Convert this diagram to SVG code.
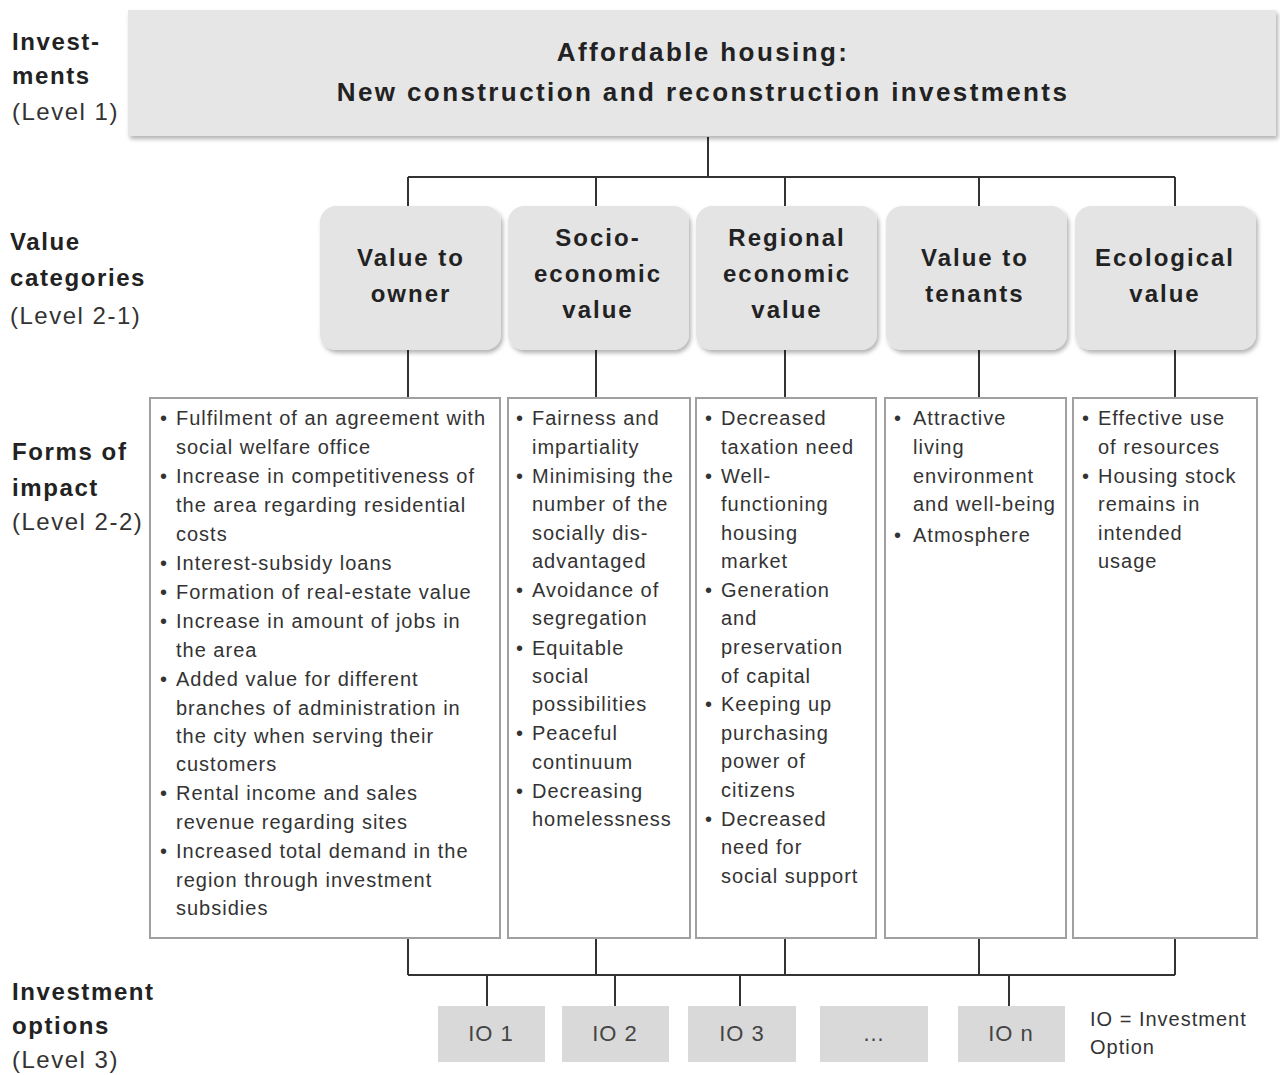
<svg xmlns="http://www.w3.org/2000/svg" width="1280" height="1075" viewBox="0 0 1280 1075">
<defs>
<filter id="sh" x="-5%" y="-5%" width="112%" height="115%">
<feDropShadow dx="2" dy="3" stdDeviation="2" flood-color="#000" flood-opacity="0.3"/>
</filter>
<style>
.lvl{font-family:"Liberation Sans",Arial,sans-serif;font-size:24px;fill:#222;}
.lb{font-weight:bold;letter-spacing:1.6px;}
.ln{letter-spacing:1.5px;fill:#333;}
.title{font-family:"Liberation Sans",Arial,sans-serif;font-size:26px;font-weight:bold;fill:#222;text-anchor:middle;letter-spacing:2.4px;}
.vc{font-family:"Liberation Sans",Arial,sans-serif;font-size:24px;font-weight:bold;fill:#222;text-anchor:middle;letter-spacing:2px;}
.vbox{fill:#e4e4e4;filter:url(#sh);}
.ibox{fill:#fff;stroke:#a0a0a0;stroke-width:2;}
.bt{font-family:"Liberation Sans",Arial,sans-serif;font-size:20px;fill:#333;letter-spacing:1px;}
.io{fill:#d9d9d9;}
.iot{font-family:"Liberation Sans",Arial,sans-serif;font-size:22px;fill:#444;text-anchor:middle;letter-spacing:1px;}
.conn{stroke:#333;stroke-width:2;fill:none;}
</style>
</defs>
<rect width="1280" height="1075" fill="#fff"/>

<g id="level-labels">
<text class="lvl lb" x="12" y="50">Invest-</text>
<text class="lvl lb" x="12" y="84">ments</text>
<text class="lvl ln" x="12" y="120">(Level 1)</text>
<text class="lvl lb" x="10" y="250">Value</text>
<text class="lvl lb" x="10" y="286">categories</text>
<text class="lvl ln" x="10" y="324">(Level 2-1)</text>
<text class="lvl lb" x="12" y="460">Forms of</text>
<text class="lvl lb" x="12" y="496">impact</text>
<text class="lvl ln" x="12" y="530">(Level 2-2)</text>
<text class="lvl lb" x="12" y="1000">Investment</text>
<text class="lvl lb" x="12" y="1034">options</text>
<text class="lvl ln" x="12" y="1068">(Level 3)</text>
</g>

<g id="connectors">
<path class="conn" d="M708 137V177M408 177H1175M408 177V207M596 177V207M785 177V207M979 177V207M1175 177V207"/>
<path class="conn" d="M408 350V398M596 350V398M785 350V398M979 350V398M1175 350V398"/>
<path class="conn" d="M408 938V975M596 938V975M785 938V975M979 938V975M1175 938V975M408 975H1175"/>
<path class="conn" d="M487 975V1006M615 975V1006M740 975V1006M1009 975V1006"/>
</g>

<g id="top">
<rect x="128" y="10" width="1148" height="126" fill="#e6e6e6" filter="url(#sh)"/>
<text class="title" x="703" y="61">Affordable housing:</text>
<text class="title" x="703" y="101">New construction and reconstruction investments</text>
</g>

<g id="v1"><rect class="vbox" x="320" y="206" width="181" height="144" rx="16"/>
<text class="vc" x="411" y="266">Value to</text><text class="vc" x="411" y="302">owner</text></g>
<g id="v2"><rect class="vbox" x="508" y="206" width="181" height="144" rx="16"/>
<text class="vc" x="598" y="246">Socio-</text><text class="vc" x="598" y="282">economic</text><text class="vc" x="598" y="318">value</text></g>
<g id="v3"><rect class="vbox" x="696" y="206" width="181" height="144" rx="16"/>
<text class="vc" x="787" y="246">Regional</text><text class="vc" x="787" y="282">economic</text><text class="vc" x="787" y="318">value</text></g>
<g id="v4"><rect class="vbox" x="886" y="206" width="181" height="144" rx="16"/>
<text class="vc" x="975" y="266">Value to</text><text class="vc" x="975" y="302">tenants</text></g>
<g id="v5"><rect class="vbox" x="1075" y="206" width="181" height="144" rx="16"/>
<text class="vc" x="1165" y="266">Ecological</text><text class="vc" x="1165" y="302">value</text></g>

<g id="f1"><rect class="ibox" x="150" y="398" width="350" height="540"/>
<g class="bt">
<text x="160" y="425">•</text><text x="176" y="425">Fulfilment of an agreement with</text>
<text x="176" y="454">social welfare office</text>
<text x="160" y="483">•</text><text x="176" y="483">Increase in competitiveness of</text>
<text x="176" y="512">the area regarding residential</text>
<text x="176" y="541">costs</text>
<text x="160" y="570">•</text><text x="176" y="570">Interest-subsidy loans</text>
<text x="160" y="599">•</text><text x="176" y="599">Formation of real-estate value</text>
<text x="160" y="628">•</text><text x="176" y="628">Increase in amount of jobs in</text>
<text x="176" y="657">the area</text>
<text x="160" y="686">•</text><text x="176" y="686">Added value for different</text>
<text x="176" y="715">branches of administration in</text>
<text x="176" y="743">the city when serving their</text>
<text x="176" y="771">customers</text>
<text x="160" y="800">•</text><text x="176" y="800">Rental income and sales</text>
<text x="176" y="829">revenue regarding sites</text>
<text x="160" y="858">•</text><text x="176" y="858">Increased total demand in the</text>
<text x="176" y="887">region through investment</text>
<text x="176" y="915">subsidies</text>
</g></g>

<g id="f2"><rect class="ibox" x="508" y="398" width="182" height="540"/>
<g class="bt">
<text x="516" y="425">•</text><text x="532" y="425">Fairness and</text>
<text x="532" y="454">impartiality</text>
<text x="516" y="483">•</text><text x="532" y="483">Minimising the</text>
<text x="532" y="511">number of the</text>
<text x="532" y="540">socially dis-</text>
<text x="532" y="568">advantaged</text>
<text x="516" y="597">•</text><text x="532" y="597">Avoidance of</text>
<text x="532" y="625">segregation</text>
<text x="516" y="655">•</text><text x="532" y="655">Equitable</text>
<text x="532" y="683">social</text>
<text x="532" y="711">possibilities</text>
<text x="516" y="740">•</text><text x="532" y="740">Peaceful</text>
<text x="532" y="769">continuum</text>
<text x="516" y="798">•</text><text x="532" y="798">Decreasing</text>
<text x="532" y="826">homelessness</text>
</g></g>

<g id="f3"><rect class="ibox" x="696" y="398" width="180" height="540"/>
<g class="bt">
<text x="705" y="425">•</text><text x="721" y="425">Decreased</text>
<text x="721" y="454">taxation need</text>
<text x="705" y="483">•</text><text x="721" y="483">Well-</text>
<text x="721" y="511">functioning</text>
<text x="721" y="540">housing</text>
<text x="721" y="568">market</text>
<text x="705" y="597">•</text><text x="721" y="597">Generation</text>
<text x="721" y="625">and</text>
<text x="721" y="654">preservation</text>
<text x="721" y="683">of capital</text>
<text x="705" y="711">•</text><text x="721" y="711">Keeping up</text>
<text x="721" y="740">purchasing</text>
<text x="721" y="768">power of</text>
<text x="721" y="797">citizens</text>
<text x="705" y="826">•</text><text x="721" y="826">Decreased</text>
<text x="721" y="854">need for</text>
<text x="721" y="883">social support</text>
</g></g>

<g id="f4"><rect class="ibox" x="885" y="398" width="181" height="540"/>
<g class="bt">
<text x="894" y="425">•</text><text x="913" y="425">Attractive</text>
<text x="913" y="454">living</text>
<text x="913" y="483">environment</text>
<text x="913" y="511">and well-being</text>
<text x="894" y="542">•</text><text x="913" y="542">Atmosphere</text>
</g></g>

<g id="f5"><rect class="ibox" x="1073" y="398" width="184" height="540"/>
<g class="bt">
<text x="1082" y="425">•</text><text x="1098" y="425">Effective use</text>
<text x="1098" y="454">of resources</text>
<text x="1082" y="483">•</text><text x="1098" y="483">Housing stock</text>
<text x="1098" y="511">remains in</text>
<text x="1098" y="540">intended</text>
<text x="1098" y="568">usage</text>
</g></g>

<g id="io1"><rect class="io" x="438" y="1006" width="107" height="56"/><text class="iot" x="491" y="1041">IO 1</text></g>
<g id="io2"><rect class="io" x="562" y="1006" width="107" height="56"/><text class="iot" x="615" y="1041">IO 2</text></g>
<g id="io3"><rect class="io" x="688" y="1006" width="108" height="56"/><text class="iot" x="742" y="1041">IO 3</text></g>
<g id="io4"><rect class="io" x="820" y="1006" width="108" height="56"/><text class="iot" x="874" y="1041">…</text></g>
<g id="ion"><rect class="io" x="958" y="1006" width="107" height="56"/><text class="iot" x="1011" y="1041">IO n</text></g>

<g id="legend">
<text class="bt" x="1090" y="1026">IO = Investment</text>
<text class="bt" x="1090" y="1054">Option</text>
</g>
</svg>
